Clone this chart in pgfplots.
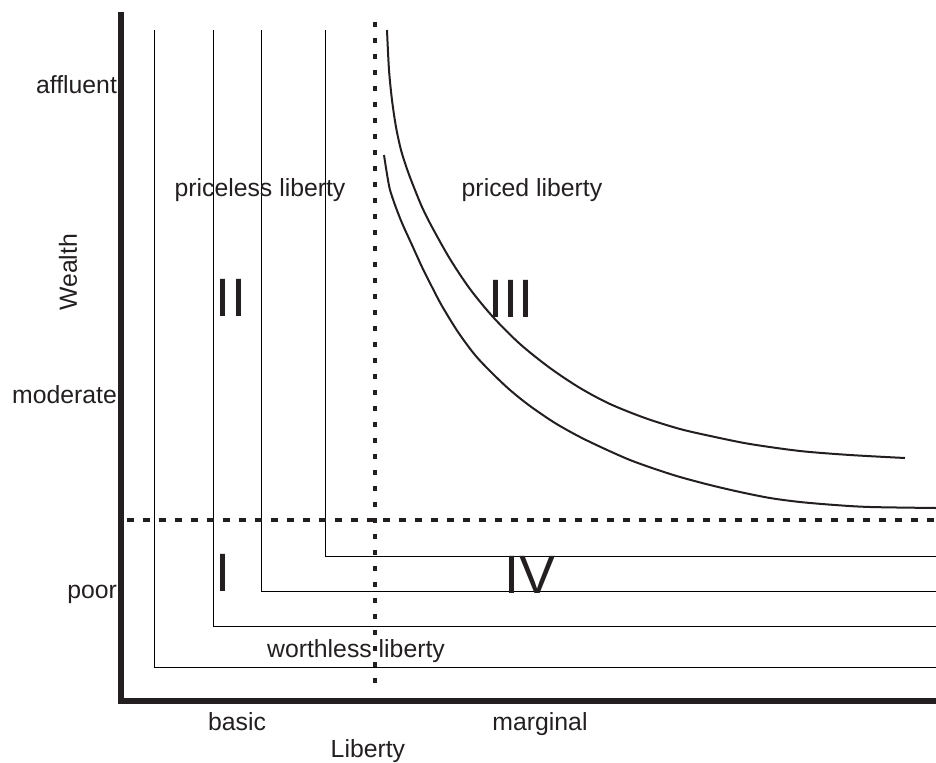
\documentclass[border=0pt]{standalone}
\usepackage{pgfplots}
\pgfplotsset{compat=1.18}
\usepackage{fontspec}
\setmainfont{Liberation Sans}
\definecolor{ink}{HTML}{231F20}
\definecolor{thin}{HTML}{6D6E71}
\newcommand{\txt}{\fontsize{12.4}{14}\selectfont}
\newcommand{\numfont}{\fontsize{27}{30}\selectfont}

\begin{document}
\begin{tikzpicture}
\begin{axis}[
  scale only axis, width=407.5pt, height=343pt,
  xmin=121, xmax=936, ymin=61, ymax=747,
  axis x line=bottom, axis y line=left,
  axis line style={-, line width=3pt, color=ink, line cap=rect},
  xtick={237,540}, xticklabels={basic,marginal},
  ytick={168,367,677}, yticklabels={poor,moderate,affluent},
  major tick length=0pt,
  tick label style={font=\txt, text=ink},
  xticklabel style={yshift=-2pt},
  yticklabel style={xshift=1.5pt},
  xlabel={Liberty}, ylabel={Wealth},
  label style={font=\txt, text=ink},
  xlabel style={at={(axis description cs:0.303,-0.0725)}, anchor=center},
  ylabel style={at={(axis description cs:-0.065,0.625)}, anchor=center},
  clip=false,
]
% bounding box corners
\coordinate (bl) at (axis cs:0,0);
\coordinate (tr) at (axis cs:936,762);

% nested L-shaped boundaries
\addplot[thin, line width=0.5pt] coordinates {(155,732) (155,95) (936,95)};
\addplot[thin, line width=0.5pt] coordinates {(214,732) (214,136) (936,136)};
\addplot[thin, line width=0.5pt] coordinates {(261,732) (261,171) (936,171)};
\addplot[thin, line width=0.5pt] coordinates {(325,732) (325,206) (936,206)};

% dashed dividers
\addplot[ink, line width=2.2pt, dash pattern=on 3.3pt off 4.7pt] coordinates {(127,242) (936,242)};
\addplot[ink, line width=2.1pt, dash pattern=on 2.7pt off 5.3pt] coordinates {(375,740) (375,70)};

% indifference curves
\addplot[ink, line width=1pt, smooth] coordinates {
  (387,732) (389,692) (392,662) (396,635) (401,612) (407,593) (413,577)
  (422,555) (432,535) (450,503) (470,473) (493,445) (520,418) (550,394)
  (580,374) (610,358) (645,344) (680,333) (715,325) (750,318) (800,311)
  (850,307) (905,304)};
\addplot[ink, line width=1pt, smooth] coordinates {
  (384,607) (386,594) (388,582) (390,572) (395,557) (402,539) (412,517)
  (422,495) (432,475) (442,456) (458,430) (475,407) (492,389) (510,372)
  (530,356) (555,339) (580,325) (605,313) (630,302) (655,293) (680,285)
  (710,277) (740,270) (770,264) (800,260) (835,257) (870,255) (936,254)};

% region labels
\node[font=\txt, text=ink] at (axis cs:260,572) {priceless liberty};
\node[font=\txt, text=ink] at (axis cs:532,572) {priced liberty};
\node[font=\txt, text=ink] at (axis cs:356,111) {worthless liberty};
\node[font=\numfont, text=ink] at (axis cs:231,464) {II};
\node[font=\numfont, text=ink] at (axis cs:511,463) {III};
\node[font=\numfont, text=ink] at (axis cs:223,189) {I};
\node[font=\numfont, text=ink] at (axis cs:530,187) {IV};
\end{axis}
\pgfresetboundingbox
\useasboundingbox (bl) rectangle (tr);
\end{tikzpicture}
\end{document}
